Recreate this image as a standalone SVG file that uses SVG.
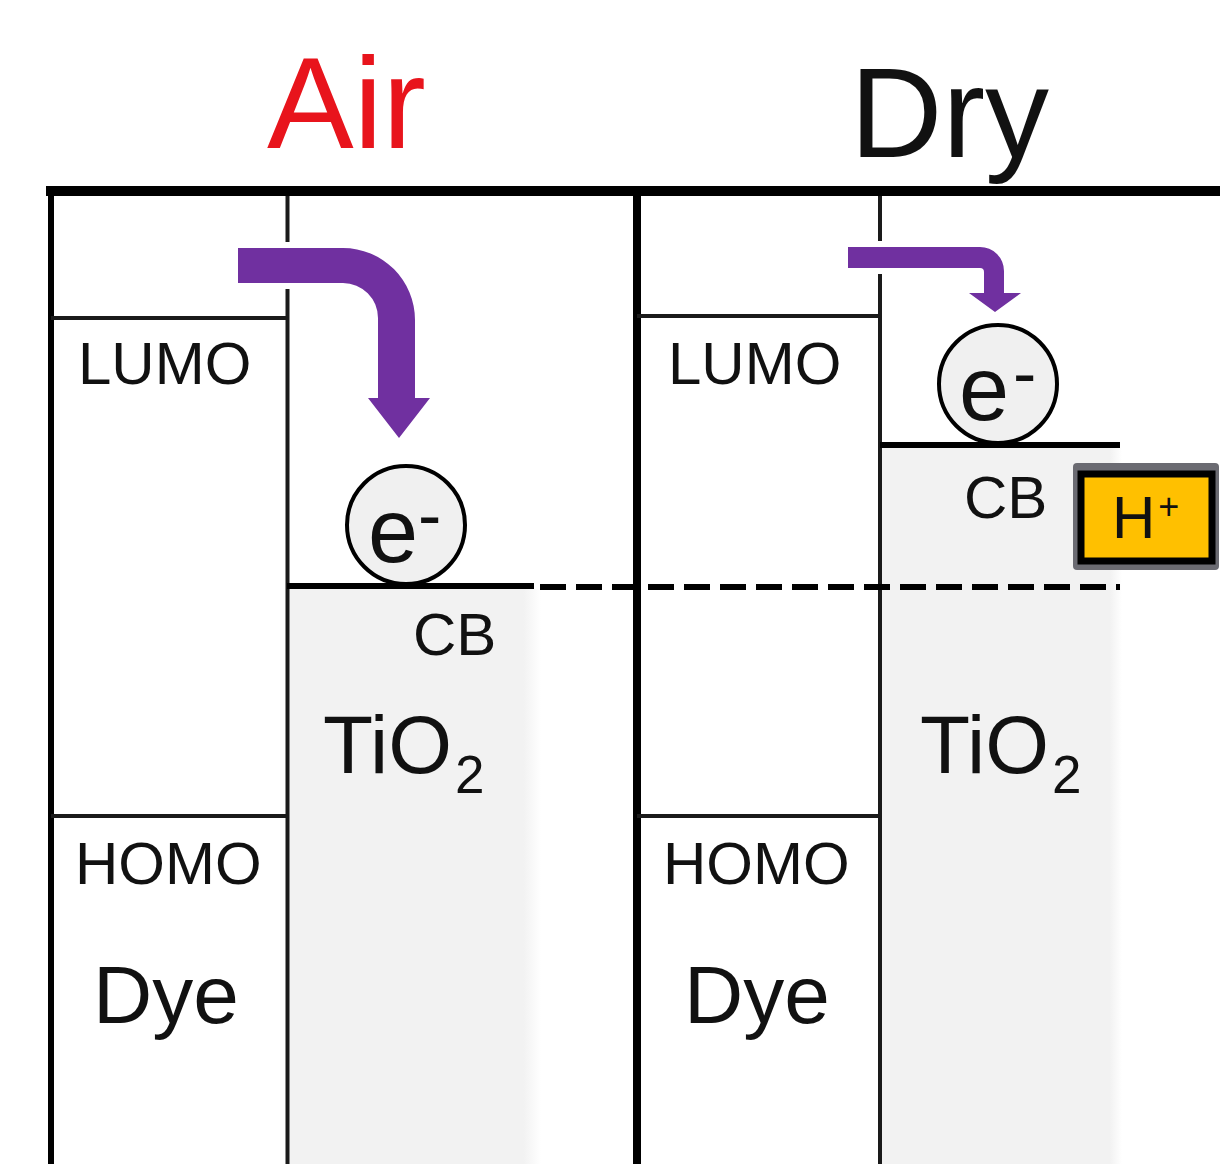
<svg xmlns="http://www.w3.org/2000/svg" width="1220" height="1164" viewBox="0 0 1220 1164">
  <defs>
    <linearGradient id="greyL" x1="0" y1="0" x2="1" y2="0">
      <stop offset="0" stop-color="#f2f2f2"/>
      <stop offset="0.93" stop-color="#f2f2f2"/>
      <stop offset="1" stop-color="#ffffff"/>
    </linearGradient>
    <linearGradient id="greyR" x1="0" y1="0" x2="1" y2="0">
      <stop offset="0" stop-color="#f2f2f2"/>
      <stop offset="0.95" stop-color="#f2f2f2"/>
      <stop offset="1" stop-color="#ffffff"/>
    </linearGradient>
  </defs>
  <style>
    text { font-family: "Liberation Sans", Arial, sans-serif; fill: #111; }
    .lbl { font-size: 60px; }
    .big { font-size: 82px; }
    .thin { stroke: #1a1a1a; stroke-width: 4; fill: none; }
    .frame { stroke: #000; fill: none; }
    .cb { stroke: #000; stroke-width: 6; fill: none; }
    .elec { fill: #f0f0f0; stroke: #000; stroke-width: 4; }
    .etxt { font-size: 90px; }
    .arrow { fill: #7030a0; stroke: #ffffff; stroke-width: 12; paint-order: stroke; stroke-linejoin: round; }
  </style>
  <rect width="1220" height="1164" fill="#ffffff"/>

  <!-- shaded conduction band regions -->
  <g id="tio2-air-band">
    <rect x="289" y="589" width="252" height="575" fill="url(#greyL)"/>
  </g>
  <g id="tio2-dry-band">
    <rect x="882" y="448" width="240" height="716" fill="url(#greyR)"/>
  </g>

  <!-- frame -->
  <g id="frame">
    <line class="frame" x1="46" y1="191" x2="1220" y2="191" stroke-width="10"/>
    <line class="frame" x1="51" y1="186" x2="51" y2="1164" stroke-width="6"/>
    <line class="frame" x1="637" y1="186" x2="637" y2="1164" stroke-width="8"/>
  </g>

  <!-- Air panel -->
  <g id="air-dye">
    <line class="thin" x1="287.5" y1="196" x2="287.5" y2="1164"/>
    <line class="thin" x1="51" y1="318" x2="287.5" y2="318"/>
    <line class="thin" x1="51" y1="816" x2="287.5" y2="816"/>
    <text class="lbl" x="78" y="384">LUMO</text>
    <text class="lbl" x="75" y="884">HOMO</text>
    <text class="big" x="93" y="1023">Dye</text>
  </g>
  <g id="air-tio2">
    <line class="cb" x1="287" y1="586" x2="534" y2="586"/>
    <text class="lbl" x="413" y="655">CB</text>
    <text class="big" x="323" y="773">TiO<tspan x="455" y="793" font-size="53">2</tspan></text>
  </g>
  <g id="air-electron">
    <circle class="elec" cx="406" cy="525" r="59"/>
    <text class="etxt" x="368" y="562">e<tspan dx="0" dy="-23" font-size="70">-</tspan></text>
  </g>

  <!-- Dry panel -->
  <g id="dry-dye">
    <line class="thin" x1="880" y1="196" x2="880" y2="1164"/>
    <line class="thin" x1="637" y1="316" x2="880" y2="316"/>
    <line class="thin" x1="637" y1="816" x2="880" y2="816"/>
    <text class="lbl" x="668" y="384">LUMO</text>
    <text class="lbl" x="663" y="884">HOMO</text>
    <text class="big" x="684" y="1023">Dye</text>
  </g>
  <g id="dry-tio2">
    <line class="cb" x1="880" y1="445" x2="1120" y2="445"/>
    <text class="lbl" x="964" y="518">CB</text>
    <text class="big" x="920" y="773">TiO<tspan x="1052" y="793" font-size="53">2</tspan></text>
  </g>
  <g id="dry-electron">
    <circle class="elec" cx="998" cy="384" r="59"/>
    <text class="etxt" x="959" y="420">e<tspan dx="4" dy="-23" font-size="70">-</tspan></text>
  </g>
  <g id="dry-proton">
    <rect x="1073" y="463" width="146" height="107" rx="4" fill="#6b6b72"/>
    <rect x="1081" y="474" width="131" height="87" fill="#ffc000" stroke="#000" stroke-width="7"/>
    <text class="lbl" x="1112" y="538">H<tspan dx="3" dy="-19" font-size="36">+</tspan></text>
  </g>

  <!-- titles -->
  <g id="title-air">
    <text x="267" y="148" font-size="130" style="fill:#e8141c">Air</text>
  </g>
  <g id="title-dry">
    <text x="850" y="157" font-size="128">Dry</text>
  </g>

  <!-- connectors -->
  <g id="connectors">
    <line x1="540" y1="587" x2="1120" y2="587" stroke="#000" stroke-width="6" stroke-dasharray="26 10"/>
    <path class="arrow" d="M238,248 H343 A72,72 0 0 1 415,320 V398 H430 L399,438 L368,398 H378 V318 A35,35 0 0 0 343,283 H238 Z"/>
    <path class="arrow" d="M848,247 H980 A24,24 0 0 1 1004,271 V293 H1021 L995,312 L969,293 H984 V272 A4,4 0 0 0 980,268 H848 Z"/>
  </g>
</svg>
